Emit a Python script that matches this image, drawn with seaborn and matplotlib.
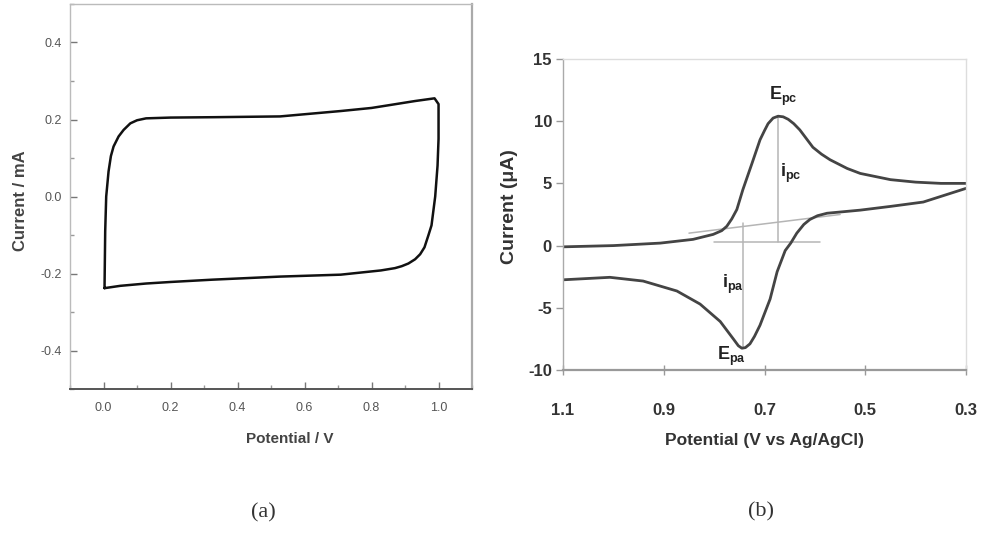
import matplotlib
matplotlib.use("Agg")
import matplotlib.pyplot as plt
import seaborn as sns
from matplotlib.ticker import MultipleLocator, FormatStrFormatter

# ---------------- data ----------------
# (a) capacitive cyclic voltammogram (closed loop)
cv_a_potential = [0.003, 0.005, 0.008, 0.015, 0.022, 0.030, 0.045, 0.060, 0.080, 0.100,
                  0.127, 0.200, 0.330, 0.527, 0.708, 0.800, 0.858, 0.930, 0.988, 1.000,
                  1.000, 0.997, 0.990, 0.979, 0.970, 0.958, 0.945, 0.930, 0.910, 0.890,
                  0.870, 0.828, 0.708, 0.527, 0.325, 0.200, 0.127, 0.050, 0.003]
cv_a_current = [-0.238, -0.090, 0.000, 0.065, 0.105, 0.130, 0.156, 0.173, 0.190, 0.198,
                0.203, 0.205, 0.206, 0.208, 0.222, 0.230, 0.238, 0.248, 0.255, 0.240,
                0.150, 0.080, 0.000, -0.075, -0.100, -0.132, -0.150, -0.163, -0.174, -0.181,
                -0.186, -0.192, -0.203, -0.208, -0.216, -0.222, -0.226, -0.232, -0.238]

a_xticks = [0.0, 0.2, 0.4, 0.6, 0.8, 1.0]
a_yticks = [-0.4, -0.2, 0.0, 0.2, 0.4]

# (b) reversible redox couple
b_fwd_potential = [1.10, 1.00, 0.907, 0.842, 0.802, 0.785, 0.775, 0.765, 0.755, 0.743,
                   0.725, 0.709, 0.700, 0.693, 0.683, 0.673, 0.663, 0.653, 0.642, 0.630,
                   0.617, 0.604, 0.587, 0.570, 0.536, 0.510, 0.450, 0.400, 0.350, 0.300]
b_fwd_current = [-0.10, 0.00, 0.20, 0.50, 0.90, 1.20, 1.55, 2.15, 2.90, 4.50,
                 6.60, 8.50, 9.25, 9.80, 10.25, 10.40, 10.35, 10.15, 9.80, 9.30,
                 8.60, 7.90, 7.35, 6.90, 6.20, 5.80, 5.30, 5.10, 5.00, 5.00]
b_rev_potential = [0.300, 0.385, 0.450, 0.510, 0.576, 0.595, 0.610, 0.622, 0.636, 0.648,
                   0.659, 0.675, 0.689, 0.709, 0.720, 0.729, 0.738, 0.745, 0.752, 0.762,
                   0.788, 0.828, 0.874, 0.941, 1.007, 1.100]
b_rev_current = [4.60, 3.50, 3.15, 2.85, 2.60, 2.40, 2.10, 1.70, 1.00, 0.20,
                 -0.40, -2.10, -4.30, -6.40, -7.30, -7.90, -8.20, -8.25, -8.05, -7.50,
                 -6.10, -4.70, -3.65, -2.85, -2.55, -2.75]

# construction lines (baselines and peak-current drops)
base_c_potential = [0.800, 0.590]
base_c_current = [0.25, 0.25]
base_a_potential = [0.850, 0.550]
base_a_current = [1.00, 2.50]
ipc_potential = [0.673, 0.673]
ipc_current = [0.25, 10.40]
ipa_potential = [0.742, 0.742]
ipa_current = [1.85, -8.25]

b_xticks = [1.1, 0.9, 0.7, 0.5, 0.3]
b_yticks = [-10, -5, 0, 5, 10, 15]

# ---------------- style ----------------
sns.set_theme(style="white")
plt.rcParams["font.family"] = ["Liberation Sans", "DejaVu Sans"]
plt.rcParams["mathtext.fontset"] = "custom"
plt.rcParams["mathtext.rm"] = "Liberation Sans"
plt.rcParams["mathtext.bf"] = "Liberation Sans:bold"
plt.rcParams["axes.unicode_minus"] = False

fig = plt.figure(figsize=(9.89, 5.40), dpi=100)
ax_a = fig.add_axes([0.0708, 0.2796, 0.4065, 0.7130])
ax_b = fig.add_axes([0.5693, 0.3148, 0.4075, 0.5760])

# ---------------- panel (a) ----------------
sns.lineplot(x=cv_a_potential, y=cv_a_current, sort=False, estimator=None,
             color="#111111", linewidth=1.8, ax=ax_a)
ax_a.set_xlim(-0.1, 1.1)
ax_a.set_ylim(-0.5, 0.5)
ax_a.set_xticks(a_xticks)
ax_a.set_yticks(a_yticks)
ax_a.xaxis.set_minor_locator(MultipleLocator(0.1))
ax_a.yaxis.set_minor_locator(MultipleLocator(0.1))
ax_a.xaxis.set_major_formatter(FormatStrFormatter("%.1f"))
ax_a.yaxis.set_major_formatter(FormatStrFormatter("%.1f"))
ax_a.tick_params(axis="both", which="major", direction="in", length=5, width=1,
                 color="#777777", labelcolor="#555555", labelsize=9)
ax_a.tick_params(axis="x", which="major", pad=9)
ax_a.tick_params(axis="y", which="major", pad=6)
ax_a.tick_params(axis="both", which="minor", direction="in", length=3, width=1,
                 color="#999999")
ax_a.tick_params(axis="both", which="both", bottom=True, left=True, top=False, right=False)
for side, col, lw in [("top", "#bbbbbb", 1.0), ("right", "#aaaaaa", 1.6),
                      ("left", "#bbbbbb", 1.0), ("bottom", "#555555", 1.4)]:
    ax_a.spines[side].set_color(col)
    ax_a.spines[side].set_linewidth(lw)
ax_a.set_xlabel("Potential / V", fontsize=11, fontweight="bold", color="#444444")
ax_a.set_ylabel("Current / mA", fontsize=12, fontweight="bold", color="#444444")
ax_a.xaxis.set_label_coords(0.547, -0.112)
ax_a.yaxis.set_label_coords(-0.105, 0.49)

# ---------------- panel (b) ----------------
line_col = "#444444"
guide_col = "#b5b5b5"
for xs, ys in [(base_c_potential, base_c_current), (base_a_potential, base_a_current),
               (ipc_potential, ipc_current), (ipa_potential, ipa_current)]:
    sns.lineplot(x=xs, y=ys, sort=False, estimator=None, color=guide_col,
                 linewidth=1.1, ax=ax_b)
sns.lineplot(x=b_fwd_potential, y=b_fwd_current, sort=False, estimator=None,
             color=line_col, linewidth=2.0, ax=ax_b)
sns.lineplot(x=b_rev_potential, y=b_rev_current, sort=False, estimator=None,
             color=line_col, linewidth=2.0, ax=ax_b)

ax_b.set_xlim(1.1, 0.3)
ax_b.set_ylim(-10, 15)
ax_b.set_xticks(b_xticks)
ax_b.set_yticks(b_yticks)
ax_b.xaxis.set_major_formatter(FormatStrFormatter("%.1f"))
ax_b.tick_params(axis="both", which="major", labelsize=12, labelcolor="#333333",
                 color="#999999", width=1)
ax_b.tick_params(axis="y", direction="out", length=5, pad=3, left=True)
ax_b.tick_params(axis="x", direction="inout", length=7, pad=20, bottom=True)
for lab in ax_b.get_xticklabels() + ax_b.get_yticklabels():
    lab.set_fontweight("bold")
for side, col, lw in [("top", "#dddddd", 1.0), ("right", "#dddddd", 1.0),
                      ("left", "#aaaaaa", 1.0), ("bottom", "#999999", 1.6)]:
    ax_b.spines[side].set_color(col)
    ax_b.spines[side].set_linewidth(lw)
ax_b.set_xlabel("Potential (V vs Ag/AgCl)", fontsize=12.5, fontweight="bold", color="#333333")
ax_b.set_ylabel("Current (μA)", fontsize=14, fontweight="bold", color="#333333")
ax_b.xaxis.set_label_coords(0.501, -0.203)
ax_b.yaxis.set_label_coords(-0.112, 0.524)

ann_kw = dict(fontsize=13, color="#222222", ha="center", va="center")
ax_b.text(0.663, 12.0, r"$\mathbf{E}_{\mathbf{pc}}$", **ann_kw)
ax_b.text(0.648, 5.8, r"$\mathbf{i}_{\mathbf{pc}}$", **ann_kw)
ax_b.text(0.763, -3.1, r"$\mathbf{i}_{\mathbf{pa}}$", **ann_kw)
ax_b.text(0.765, -8.9, r"$\mathbf{E}_{\mathbf{pa}}$", **ann_kw)

# panel captions
fig.text(263 / 989, 1 - 513 / 540, "(a)", fontsize=16, ha="center", va="center",
         family=["Liberation Serif", "DejaVu Serif"], color="#333333")
fig.text(761 / 989, 1 - 512 / 540, "(b)", fontsize=16, ha="center", va="center",
         family=["Liberation Serif", "DejaVu Serif"], color="#333333")

fig.savefig("out.png", dpi=100)
